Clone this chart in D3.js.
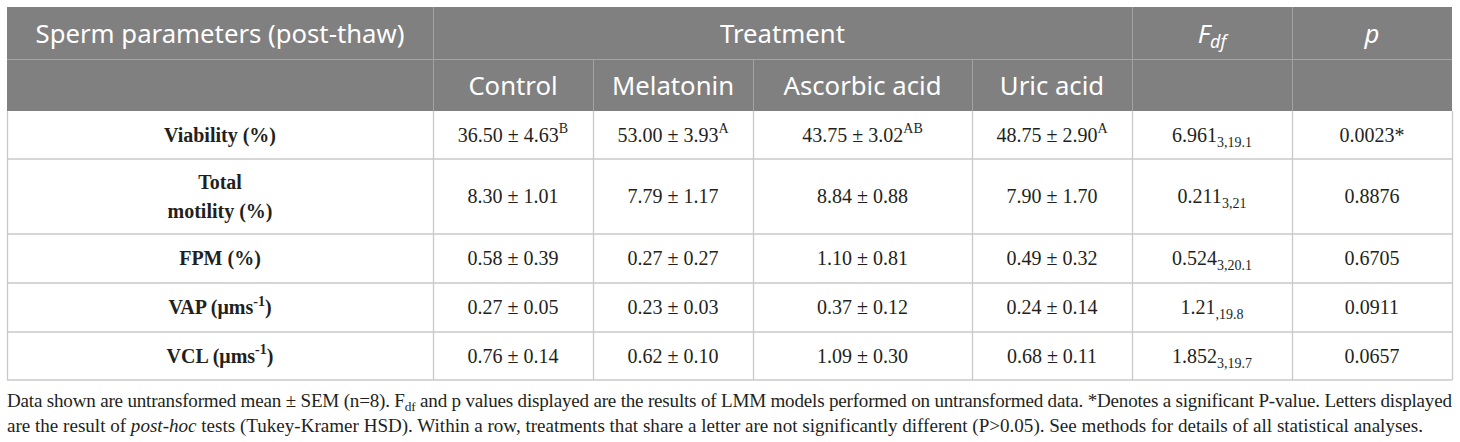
<!DOCTYPE html>
<html>
<head>
<meta charset="utf-8">
<script src="https://cdn.jsdelivr.net/npm/d3@7"></script>
<style>
  html, body { margin: 0; padding: 0; background: #ffffff; }
  svg { display: block; }
</style>
</head>
<body>
<svg id="chart" width="1460" height="442"></svg>
<script>
// ---------- data ----------
const parameterColumnTitle = "Sperm parameters (post-thaw)";
const groupTitle = "Treatment";
const categories = ["Control", "Melatonin", "Ascorbic acid", "Uric acid"];
const parameters = [
  {lines: ["Viability (%)"]},
  {lines: ["Total", "motility (%)"]},
  {lines: ["FPM (%)"]},
  {lines: ["VAP (μms"], sup: "-1", after: ")"},
  {lines: ["VCL (μms"], sup: "-1", after: ")"}
];
const means = [
  [36.50, 53.00, 43.75, 48.75],
  [8.30, 7.79, 8.84, 7.90],
  [0.58, 0.27, 1.10, 0.49],
  [0.27, 0.23, 0.37, 0.24],
  [0.76, 0.62, 1.09, 0.68]
];
const sems = [
  [4.63, 3.93, 3.02, 2.90],
  [1.01, 1.17, 0.88, 1.70],
  [0.39, 0.27, 0.81, 0.32],
  [0.05, 0.03, 0.12, 0.14],
  [0.14, 0.10, 0.30, 0.11]
];
const letters = [
  ["B", "A", "AB", "A"],
  ["", "", "", ""],
  ["", "", "", ""],
  ["", "", "", ""],
  ["", "", "", ""]
];
const fValues = ["6.961", "0.211", "0.524", "1.21", "1.852"];
const fDf = ["3,19.1", "3,21", "3,20.1", ",19.8", "3,19.7"];
const pValues = ["0.0023*", "0.8876", "0.6705", "0.0911", "0.0657"];
const footLine1 = [
  {t: "Data shown are untransformed mean ± SEM (n=8). F"},
  {t: "df", sub: true},
  {t: " and p values displayed are the results of LMM models performed on untransformed data. *Denotes a significant P-value. Letters displayed"}
];
const footLine2 = [
  {t: "are the result of "},
  {t: "post-hoc", it: true},
  {t: " tests (Tukey-Kramer HSD). Within a row, treatments that share a letter are not significantly different (P>0.05). See methods for details of all statistical analyses."}
];

// ---------- layout ----------
const colEdges = [7, 433, 593, 753, 972, 1132, 1292, 1452];
const rowEdges = [7, 59, 111, 159, 234, 283, 332, 380];
const headerFill = "#808080";
const headerLine = "#a3a3a3";
const bodyLine = "#c9c9c9";
const textColor = "#231f20";
const sansFont = "'Noto Sans', 'Open Sans', sans-serif";
const serifFont = "'Liberation Serif', 'DejaVu Serif', serif";

const svg = d3.select("#chart");

// scales: column index -> x edges, row index -> y edges
const xEdge = d3.scaleOrdinal().domain(d3.range(colEdges.length)).range(colEdges);
const yEdge = d3.scaleOrdinal().domain(d3.range(rowEdges.length)).range(rowEdges);
const colCenter = i => (xEdge(i) + xEdge(i + 1)) / 2;
const rowCenter = i => (yEdge(i) + yEdge(i + 1)) / 2;

// measurement helper for fitting font sizes
function measure(str, font, size, weight, style) {
  const t = svg.append("text").attr("font-family", font).attr("font-size", size)
    .attr("font-weight", weight || "normal").attr("font-style", style || "normal").text(str);
  const w = t.node().getComputedTextLength();
  t.remove();
  return w;
}
const headFs = 20 * 369 / measure(parameterColumnTitle, sansFont, 20);
const bodyFs = Math.min(21, 20 * 101 / measure("36.50 ± 4.63", serifFont, 20));
const supFs = bodyFs * 0.7;

// ---------- header ----------
svg.append("rect").attr("x", xEdge(0)).attr("y", yEdge(0))
  .attr("width", xEdge(7) - xEdge(0)).attr("height", yEdge(2) - yEdge(0))
  .attr("fill", headerFill);

const hl = svg.append("g").attr("stroke", headerLine).attr("stroke-width", 1);
hl.append("line").attr("x1", xEdge(0)).attr("x2", xEdge(7)).attr("y1", yEdge(1) + 0.5).attr("y2", yEdge(1) + 0.5);
[1, 5, 6].forEach(i => hl.append("line").attr("x1", xEdge(i) + 0.5).attr("x2", xEdge(i) + 0.5)
  .attr("y1", yEdge(0)).attr("y2", yEdge(2)));
[2, 3, 4].forEach(i => hl.append("line").attr("x1", xEdge(i) + 0.5).attr("x2", xEdge(i) + 0.5)
  .attr("y1", yEdge(1)).attr("y2", yEdge(2)));

const hText = svg.append("g").attr("fill", "#ffffff").attr("font-family", sansFont)
  .attr("font-size", headFs).attr("text-anchor", "middle");
const hb1 = rowCenter(0) + headFs * 0.37;
const hb2 = rowCenter(1) + headFs * 0.37;
hText.append("text").attr("x", colCenter(0)).attr("y", hb1).text(parameterColumnTitle);
hText.append("text").attr("x", (xEdge(1) + xEdge(5)) / 2).attr("y", hb1).text(groupTitle);
hText.selectAll("text.cat").data(categories).join("text").attr("class", "cat")
  .attr("x", (d, i) => colCenter(i + 1)).attr("y", hb2).text(d => d);
const fHead = hText.append("text").attr("x", colCenter(5)).attr("y", hb1).attr("font-style", "italic");
fHead.append("tspan").text("F");
fHead.append("tspan").attr("font-size", headFs * 0.7).attr("dy", headFs * 0.2).text("df");
hText.append("text").attr("x", colCenter(6)).attr("y", hb1).attr("font-style", "italic").text("p");

// ---------- body grid ----------
const bl = svg.append("g").attr("stroke", bodyLine).attr("stroke-width", 1.3).attr("fill", "none");
d3.range(3, 8).forEach(r => bl.append("line").attr("x1", xEdge(0)).attr("x2", xEdge(7))
  .attr("y1", yEdge(r)).attr("y2", yEdge(r)));
d3.range(0, 8).forEach(c => bl.append("line").attr("x1", xEdge(c) + 0.5).attr("x2", xEdge(c) + 0.5)
  .attr("y1", yEdge(2)).attr("y2", yEdge(7)));

// ---------- body text ----------
const body = svg.append("g").attr("fill", textColor).attr("font-family", serifFont)
  .attr("font-size", bodyFs).attr("text-anchor", "middle");
const base = r => rowCenter(r + 2) + bodyFs * 0.34;

parameters.forEach((p, r) => {
  const n = p.lines.length;
  p.lines.forEach((ln, k) => {
    const t = body.append("text").attr("x", colCenter(0)).attr("font-weight", "bold")
      .attr("y", base(r) + (k - (n - 1) / 2) * 29);
    t.append("tspan").text(ln);
    if (p.sup) {
      t.append("tspan").attr("font-size", supFs).attr("dy", -bodyFs * 0.42).text(p.sup);
      t.append("tspan").attr("dy", bodyFs * 0.42).text(p.after);
    }
  });
  categories.forEach((c, j) => {
    const t = body.append("text").attr("x", colCenter(j + 1)).attr("y", base(r));
    t.append("tspan").text(d3.format(".2f")(means[r][j]) + " ± " + d3.format(".2f")(sems[r][j]));
    if (letters[r][j]) t.append("tspan").attr("font-size", supFs).attr("dy", -bodyFs * 0.42).text(letters[r][j]);
  });
  const ft = body.append("text").attr("x", colCenter(5)).attr("y", base(r));
  ft.append("tspan").text(fValues[r]);
  ft.append("tspan").attr("font-size", supFs).attr("dy", bodyFs * 0.25).text(fDf[r]);
  body.append("text").attr("x", colCenter(6)).attr("y", base(r)).text(pValues[r]);
});

// ---------- footnote ----------
const footFs0 = 18;
function addFoot(parts, y, fs) {
  const t = svg.append("text").attr("x", 7).attr("y", y).attr("font-family", serifFont)
    .attr("font-size", fs).attr("fill", textColor);
  parts.forEach((p, i) => {
    const s = t.append("tspan").text(p.t);
    if (p.it) s.attr("font-style", "italic");
    if (p.sub) { s.attr("font-size", fs * 0.7).attr("dy", fs * 0.2); }
    else if (i > 0 && parts[i - 1].sub) s.attr("dy", -fs * 0.2);
  });
  return t;
}
const probe = addFoot(footLine2, -50, footFs0);
const footFs = footFs0 * 1417 / probe.node().getComputedTextLength();
probe.remove();
addFoot(footLine1, 407, footFs).attr("textLength", 1445).attr("lengthAdjust", "spacing");
addFoot(footLine2, 432, footFs);
</script>
</body>
</html>
